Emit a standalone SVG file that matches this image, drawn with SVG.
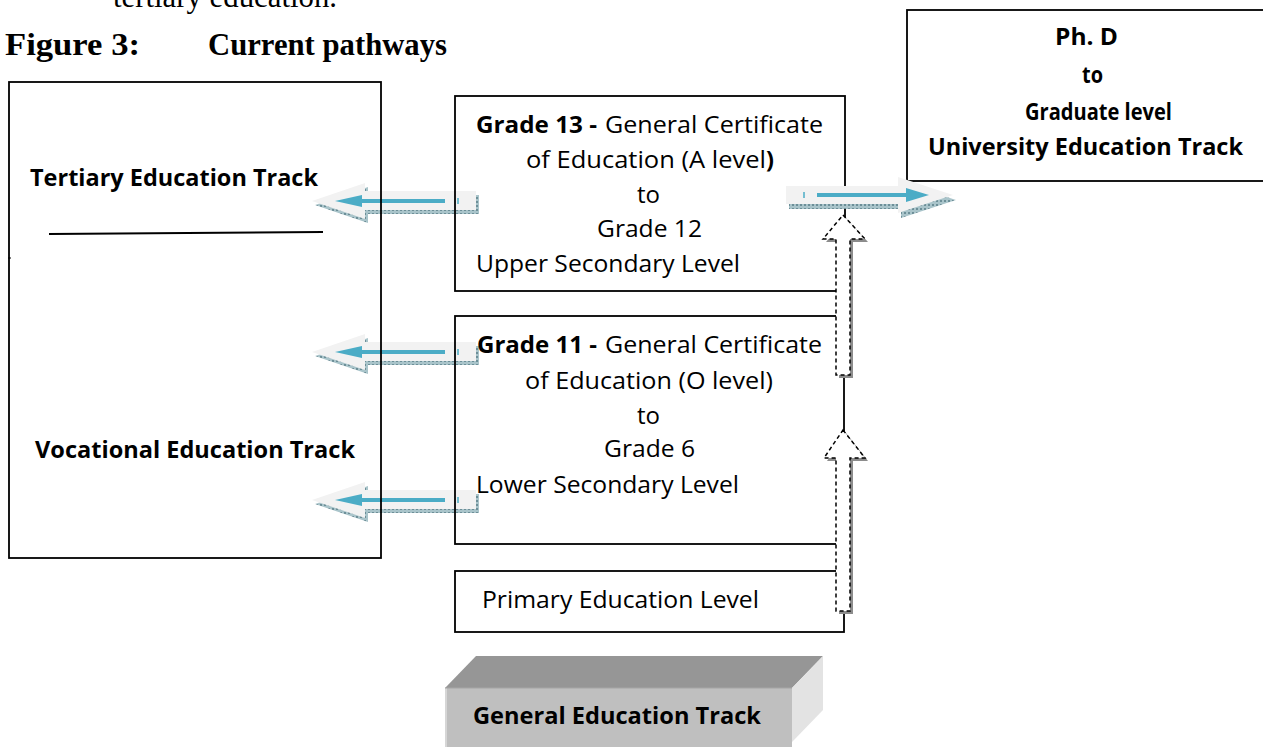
<svg xmlns="http://www.w3.org/2000/svg" width="1263" height="747" viewBox="0 0 1263 747">
<style>
.box{fill:none;stroke:#000;stroke-width:1.8}
.t{font-family:"Open Sans","Liberation Sans",sans-serif;font-size:23.5px;fill:#000}
.b{font-family:"Open Sans","Liberation Sans",sans-serif;font-size:23px;font-weight:bold;fill:#000}
.tb{font-weight:bold}
.title{font-family:"Liberation Serif",serif;font-weight:bold;font-size:32px;fill:#000}
.sub{font-family:"Liberation Serif",serif;font-size:32px;fill:#000}
.arr{fill:#f2f2f2}
.teal{stroke:#4bacc6;stroke-width:4}
.tealf{fill:#4bacc6}
.dash{fill:#fff;stroke:#000;stroke-width:1.5;stroke-dasharray:4 3}
.shd{fill:#8c8c8c}
</style>
<defs>
<pattern id="hatch" width="4" height="4" patternUnits="userSpaceOnUse">
<rect width="4" height="4" fill="#a9c4ca"/><rect width="2" height="2" fill="#6d8f98"/>
</pattern>
<g id="larrow">
<polygon points="3,4 56,-14 56,-6 167,-6 167,13 56,13 56,22" fill="url(#hatch)"/>
<polygon class="arr" points="0,0 53,-18 53,-10 164,-10 164,9 53,9 53,18"/>
<line class="teal" x1="48" y1="0" x2="133" y2="0"/>
<polygon class="tealf" points="23,0 50,-6 50,6"/>
<line x1="146" y1="-3" x2="146" y2="3" stroke="#4bacc6" stroke-width="1.5"/>
</g>
</defs>

<text class="sub" x="113" y="7" textLength="224" lengthAdjust="spacingAndGlyphs">tertiary education.</text>
<text class="title" x="5" y="55" textLength="135" lengthAdjust="spacingAndGlyphs">Figure 3:</text>
<text class="title" x="208" y="55" textLength="239" lengthAdjust="spacingAndGlyphs">Current pathways</text>

<g id="connectors">
<use href="#larrow" x="312" y="201"/>
<use href="#larrow" x="312" y="352"/>
<use href="#larrow" x="312" y="500"/>
</g>

<g id="tracks">
<rect class="box" x="9" y="82" width="372" height="476"/>
<line x1="49" y1="234" x2="323" y2="232" stroke="#000" stroke-width="2"/>
<line x1="8" y1="258" x2="11" y2="258" stroke="#000" stroke-width="1"/>
<text class="b" x="30" y="186" textLength="288" lengthAdjust="spacingAndGlyphs">Tertiary Education Track</text>
<text class="b" x="35" y="458" textLength="320" lengthAdjust="spacingAndGlyphs">Vocational Education Track</text>
</g>

<g id="grade13">
<rect class="box" x="455" y="96" width="390" height="195"/>
<text class="t tb" x="476" y="133" textLength="121" lengthAdjust="spacingAndGlyphs">Grade 13 -</text>
<text class="t" x="605" y="133" textLength="218" lengthAdjust="spacingAndGlyphs">General Certificate</text>
<text class="t" x="526" y="168" textLength="240" lengthAdjust="spacingAndGlyphs">of Education (A level</text>
<text class="t tb" x="766" y="168">)</text>
<text class="t" x="637" y="203" textLength="23" lengthAdjust="spacingAndGlyphs">to</text>
<text class="t" x="597" y="237" textLength="105" lengthAdjust="spacingAndGlyphs">Grade 12</text>
<text class="t" x="476" y="272" textLength="264" lengthAdjust="spacingAndGlyphs">Upper Secondary Level</text>
</g>

<g id="grade11">
<rect class="box" x="455" y="316" width="389" height="228"/>
<text class="t tb" x="477" y="353" textLength="120" lengthAdjust="spacingAndGlyphs">Grade 11 -</text>
<text class="t" x="605" y="353" textLength="217" lengthAdjust="spacingAndGlyphs">General Certificate</text>
<text class="t" x="525" y="389" textLength="248" lengthAdjust="spacingAndGlyphs">of Education (O level)</text>
<text class="t" x="637" y="424" textLength="23" lengthAdjust="spacingAndGlyphs">to</text>
<text class="t" x="604" y="457" textLength="91" lengthAdjust="spacingAndGlyphs">Grade 6</text>
<text class="t" x="476" y="493" textLength="263" lengthAdjust="spacingAndGlyphs">Lower Secondary Level</text>
</g>

<g id="primary">
<rect class="box" x="455" y="571" width="389" height="61"/>
<text class="t" x="482" y="608" textLength="277" lengthAdjust="spacingAndGlyphs">Primary Education Level</text>
</g>

<g id="phd">
<rect class="box" x="907" y="10" width="380" height="171"/>
<text class="b" x="1055" y="45" textLength="63" lengthAdjust="spacingAndGlyphs">Ph. D</text>
<text class="b" x="1082" y="83" textLength="21" lengthAdjust="spacingAndGlyphs">to</text>
<text class="b" x="1025" y="120" textLength="147" lengthAdjust="spacingAndGlyphs">Graduate level</text>
<text class="b" x="928" y="155" textLength="315" lengthAdjust="spacingAndGlyphs">University Education Track</text>
</g>

<g id="connectors2">
<polygon points="789,191 901,191 901,182 956,200 901,218 901,209 789,209" fill="url(#hatch)"/>
<polygon class="arr" points="786,186 898,186 898,177 953,195 898,213 898,204 786,204"/>
<line class="teal" x1="817" y1="195" x2="908" y2="195"/>
<polygon class="tealf" points="906,188 929,195 906,202"/>
<line x1="804" y1="192" x2="804" y2="198" stroke="#4bacc6" stroke-width="1.5"/>
<polygon class="shd" points="846,218 868,242 853,242 853,378 839,378 839,242 826,242"/>
<polygon class="dash" points="843,215 865,239 850,239 850,375 836,375 836,239 823,239"/>
<polygon class="shd" points="846,433 868,461 853,461 853,614 839,614 839,461 827,461"/>
<polygon class="dash" points="843,430 865,458 850,458 850,611 836,611 836,458 824,458"/>
</g>

<g id="general">
<polygon points="445,688 476,656 823,656 792,688" fill="#969696"/>
<polygon points="792,688 823,656 823,710 792,742" fill="#e3e3e3"/>
<rect x="445" y="688" width="347" height="70" fill="#bfbfbf"/>
<line x1="446" y1="688" x2="446" y2="747" stroke="#d6d6d6" stroke-width="2"/>
<line x1="445" y1="688" x2="792" y2="688" stroke="#a6a6a6" stroke-width="1"/>
<text class="b" x="473" y="724" textLength="288" lengthAdjust="spacingAndGlyphs">General Education Track</text>
</g>
</svg>
